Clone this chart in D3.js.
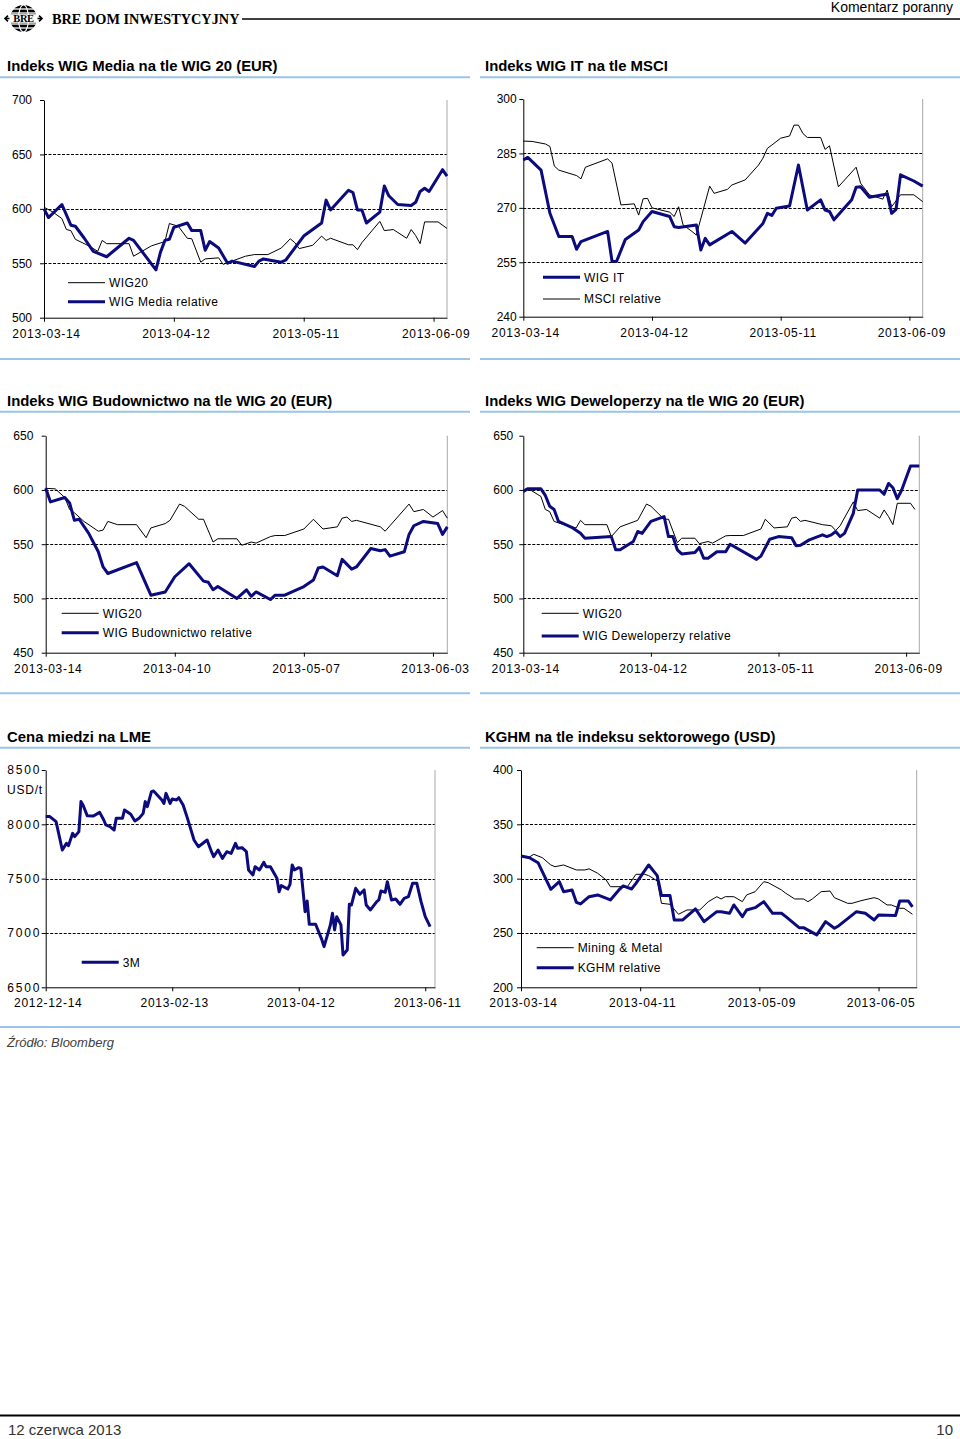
<!DOCTYPE html>
<html><head><meta charset="utf-8">
<script src="https://cdn.jsdelivr.net/npm/d3@7"></script>
<style>
body{margin:0;background:#fff;}
svg{display:block;font-family:Arial,"Liberation Sans",sans-serif;}
</style></head><body>
<svg id="page" width="960" height="1439"></svg>
<script>
// ---------- DATA ----------
// Chart 1: WIG Media vs WIG20
const mediaWig20Dates = ["2013-03-14","2013-03-16","2013-03-18","2013-03-19","2013-03-20","2013-03-21","2013-03-24","2013-03-26","2013-03-27","2013-03-28","2013-04-02","2013-04-03","2013-04-07","2013-04-10","2013-04-11","2013-04-13","2013-04-15","2013-04-16","2013-04-18","2013-04-19","2013-04-22","2013-04-23","2013-04-28","2013-04-30","2013-05-03","2013-05-06","2013-05-08","2013-05-09","2013-05-10","2013-05-13","2013-05-15","2013-05-16","2013-05-17","2013-05-21","2013-05-22","2013-05-23","2013-05-24","2013-05-28","2013-05-29","2013-05-31","2013-06-03","2013-06-04","2013-06-05","2013-06-06","2013-06-07","2013-06-10","2013-06-12"];
const mediaWig20Values = [601.5,597,591,581,580,572,566,561,571,568,568,556.5,566,570,586.5,584,573,572.5,551,554,555,549,556.5,558,558,564,572.5,569,563.5,566.5,575,571,573,567,567,562.5,569,588.5,580,581,573,581,575.5,568,588,588,582];
const mediaRelDates = ["2013-03-14","2013-03-15","2013-03-18","2013-03-20","2013-03-21","2013-03-23","2013-03-25","2013-03-28","2013-04-02","2013-04-03","2013-04-08","2013-04-09","2013-04-10","2013-04-11","2013-04-12","2013-04-15","2013-04-16","2013-04-18","2013-04-19","2013-04-20","2013-04-22","2013-04-24","2013-04-25","2013-04-30","2013-05-01","2013-05-02","2013-05-06","2013-05-07","2013-05-11","2013-05-15","2013-05-16","2013-05-17","2013-05-21","2013-05-22","2013-05-23","2013-05-24","2013-05-25","2013-05-28","2013-05-29","2013-05-30","2013-06-01","2013-06-04","2013-06-05","2013-06-06","2013-06-07","2013-06-08","2013-06-11","2013-06-12"];
const mediaRelValues = [600,592,604,585,584,573,561,556,573,571,544,560,571,572,583,587,580,580,562,570,564,550,552,547,552,554,551,553,575,587,608,599,617,615,599,599,587,597,621,612,604,603,606,616,619,616,636,630];

// Chart 2: WIG IT vs MSCI
const itDates = ["2013-03-14","2013-03-15","2013-03-18","2013-03-20","2013-03-22","2013-03-25","2013-03-26","2013-03-27","2013-04-02","2013-04-03","2013-04-04","2013-04-06","2013-04-09","2013-04-10","2013-04-12","2013-04-16","2013-04-17","2013-04-18","2013-04-22","2013-04-23","2013-04-24","2013-04-25","2013-04-30","2013-05-03","2013-05-07","2013-05-08","2013-05-09","2013-05-10","2013-05-13","2013-05-15","2013-05-17","2013-05-20","2013-05-21","2013-05-22","2013-05-23","2013-05-27","2013-05-28","2013-05-29","2013-05-31","2013-06-04","2013-06-05","2013-06-06","2013-06-07","2013-06-10","2013-06-12"];
const itValues = [283.2,283.9,280.4,268.5,262.1,262.1,258.6,260.7,263.5,255.2,255.2,261.3,263.9,266.2,269,267.6,264.8,264.6,265.3,258.4,261.6,259.8,263.5,260.3,265.7,268.5,267.9,269.9,270.5,281.8,269.4,272.2,269.4,269,266.7,272.2,275.7,275.8,272.9,273.8,268.5,269.6,279.1,277.4,276];
const msciDates = ["2013-03-14","2013-03-16","2013-03-19","2013-03-20","2013-03-21","2013-03-22","2013-03-26","2013-03-27","2013-03-28","2013-04-02","2013-04-03","2013-04-05","2013-04-08","2013-04-09","2013-04-10","2013-04-11","2013-04-12","2013-04-16","2013-04-17","2013-04-18","2013-04-19","2013-04-21","2013-04-22","2013-04-25","2013-04-26","2013-04-29","2013-04-30","2013-05-03","2013-05-06","2013-05-07","2013-05-08","2013-05-09","2013-05-11","2013-05-13","2013-05-14","2013-05-15","2013-05-16","2013-05-17","2013-05-20","2013-05-21","2013-05-22","2013-05-24","2013-05-28","2013-05-29","2013-05-31","2013-06-03","2013-06-04","2013-06-05","2013-06-07","2013-06-10","2013-06-12"];
const msciValues = [288.4,288.3,287.6,286.9,281.5,280.4,278.9,278,281.2,283.5,282.3,270.8,271.1,268,272.5,272.6,270,268.8,267.6,270.3,265.3,263.5,262.5,276,274,275.1,276.3,277.7,281.8,283.7,286.4,287.3,289.2,289.8,292.8,292.8,290.5,289.4,289.4,286.1,287.1,275.8,281.2,276.8,273.6,272.4,274.9,270.3,273.6,273.6,271.7];

// Chart 3: WIG Budownictwo vs WIG20
const budWig20Dates = ["2013-03-14","2013-03-16","2013-03-18","2013-03-19","2013-03-20","2013-03-22","2013-03-25","2013-03-26","2013-03-27","2013-03-29","2013-04-02","2013-04-04","2013-04-05","2013-04-08","2013-04-09","2013-04-11","2013-04-12","2013-04-15","2013-04-16","2013-04-18","2013-04-19","2013-04-23","2013-04-24","2013-04-26","2013-04-27","2013-04-30","2013-05-01","2013-05-03","2013-05-07","2013-05-09","2013-05-11","2013-05-14","2013-05-15","2013-05-16","2013-05-17","2013-05-18","2013-05-23","2013-05-24","2013-05-25","2013-05-29","2013-05-30","2013-06-01","2013-06-03","2013-06-05","2013-06-06"];
const budWig20Values = [601.5,601,593,582,579,571,562,563,571,568,568,556,565,569,572,587,585,573,573,552,555,555,549,552,551,557,558,558,564,573,564,566,574,575,571,572,566,562,567,587,580,582,575,581,574];
const budRelDates = ["2013-03-14","2013-03-15","2013-03-18","2013-03-19","2013-03-20","2013-03-21","2013-03-23","2013-03-25","2013-03-26","2013-03-27","2013-04-02","2013-04-05","2013-04-08","2013-04-10","2013-04-13","2013-04-16","2013-04-17","2013-04-18","2013-04-19","2013-04-23","2013-04-25","2013-04-26","2013-04-27","2013-04-30","2013-05-01","2013-05-03","2013-05-07","2013-05-09","2013-05-10","2013-05-11","2013-05-14","2013-05-15","2013-05-17","2013-05-18","2013-05-21","2013-05-23","2013-05-24","2013-05-25","2013-05-28","2013-05-29","2013-05-30","2013-06-01","2013-06-04","2013-06-05","2013-06-06"];
const budRelValues = [601.5,589,593,588,572,573,560,543,529,523,533,503,506,520,532,516,515,508,511,500,508,502,506,499,503,503,511,517,528,529,521,536,527,529,546,544,545,539,543,559,567,571,569,559,566];

// Chart 4: WIG Deweloperzy vs WIG20
const devWig20Dates = ["2013-03-14","2013-03-15","2013-03-18","2013-03-19","2013-03-20","2013-03-21","2013-03-24","2013-03-26","2013-03-27","2013-03-28","2013-04-02","2013-04-03","2013-04-05","2013-04-09","2013-04-11","2013-04-12","2013-04-15","2013-04-16","2013-04-18","2013-04-19","2013-04-22","2013-04-23","2013-04-25","2013-04-26","2013-04-29","2013-04-30","2013-05-03","2013-05-07","2013-05-08","2013-05-10","2013-05-13","2013-05-14","2013-05-15","2013-05-16","2013-05-17","2013-05-21","2013-05-23","2013-05-24","2013-05-25","2013-05-28","2013-05-29","2013-05-31","2013-06-03","2013-06-04","2013-06-05","2013-06-06","2013-06-07","2013-06-10","2013-06-11"];
const devWig20Values = [600,601.5,594,582,580,571,567,565,572,568,568,557,566,572,587,585,573,573,551.5,555.5,555.5,550.5,552.5,551,557.7,558,558,564,573,565,566,574,575,571,572,568,567,562.6,567,589,581,582,574,581.6,575.5,568,587.7,587.7,582];
const devRelDates = ["2013-03-14","2013-03-15","2013-03-18","2013-03-19","2013-03-20","2013-03-21","2013-03-22","2013-03-25","2013-03-27","2013-03-28","2013-04-03","2013-04-04","2013-04-05","2013-04-08","2013-04-09","2013-04-10","2013-04-12","2013-04-15","2013-04-16","2013-04-17","2013-04-18","2013-04-19","2013-04-22","2013-04-23","2013-04-24","2013-04-25","2013-04-27","2013-04-29","2013-04-30","2013-05-06","2013-05-07","2013-05-09","2013-05-11","2013-05-14","2013-05-15","2013-05-16","2013-05-18","2013-05-21","2013-05-22","2013-05-23","2013-05-24","2013-05-25","2013-05-26","2013-05-28","2013-05-29","2013-05-31","2013-06-03","2013-06-04","2013-06-05","2013-06-06","2013-06-07","2013-06-08","2013-06-10","2013-06-12"];
const devRelValues = [598.5,601,601,595,585,582,571,565.6,560,555.5,557,544.8,544.8,552.5,561.7,560,571,575.5,557,557,544.8,541,542.3,547,537,537,543,543,550,536,539,554.6,557,556,548.5,549,554,558.6,557,558.6,561.7,557,560,578.5,600,600,600,596,606,602,592,600,622,622];

// Chart 5: LME copper 3M (USD/t)
const copperDates = ["2012-12-14","2012-12-16","2012-12-19","2012-12-22","2012-12-24","2012-12-25","2012-12-27","2012-12-28","2012-12-30","2012-12-31","2013-01-01","2013-01-03","2013-01-06","2013-01-09","2013-01-11","2013-01-12","2013-01-14","2013-01-16","2013-01-17","2013-01-20","2013-01-21","2013-01-24","2013-01-26","2013-01-28","2013-01-30","2013-01-31","2013-02-01","2013-02-03","2013-02-04","2013-02-08","2013-02-09","2013-02-10","2013-02-12","2013-02-13","2013-02-15","2013-02-16","2013-02-18","2013-02-20","2013-02-23","2013-02-25","2013-03-01","2013-03-03","2013-03-04","2013-03-06","2013-03-08","2013-03-10","2013-03-12","2013-03-14","2013-03-15","2013-03-17","2013-03-19","2013-03-20","2013-03-22","2013-03-23","2013-03-25","2013-03-27","2013-03-28","2013-03-30","2013-04-02","2013-04-03","2013-04-04","2013-04-07","2013-04-08","2013-04-09","2013-04-10","2013-04-12","2013-04-13","2013-04-15","2013-04-16","2013-04-17","2013-04-20","2013-04-23","2013-04-24","2013-04-27","2013-04-28","2013-04-29","2013-04-30","2013-05-02","2013-05-03","2013-05-05","2013-05-06","2013-05-07","2013-05-09","2013-05-11","2013-05-13","2013-05-14","2013-05-16","2013-05-19","2013-05-20","2013-05-21","2013-05-23","2013-05-24","2013-05-26","2013-05-28","2013-05-30","2013-06-01","2013-06-03","2013-06-05","2013-06-07","2013-06-09","2013-06-11","2013-06-13"];
const copperValues = [8071,8071,8025,7764,7825,7804,7917,7887,7933,8209,8178,8080,8077,8110,8040,7994,7979,7948,8055,8055,8132,8092,8031,8055,8101,8209,8163,8301,8307,8224,8193,8285,8193,8233,8224,8245,8178,8055,7856,7794,7856,7748,7702,7764,7687,7748,7733,7825,7779,7785,7748,7580,7534,7610,7580,7650,7610,7610,7503,7380,7436,7405,7448,7626,7580,7601,7595,7196,7294,7080,7080,6936,6874,7074,7181,7028,7150,7074,6798,6844,7264,7258,7411,7356,7396,7258,7212,7288,7304,7387,7374,7472,7304,7313,7264,7319,7334,7457,7457,7288,7150,7058];

// Chart 6: KGHM vs Mining & Metal (USD)
const miningDates = ["2013-03-14","2013-03-16","2013-03-17","2013-03-19","2013-03-21","2013-03-22","2013-03-24","2013-03-27","2013-03-29","2013-03-30","2013-04-01","2013-04-03","2013-04-04","2013-04-08","2013-04-10","2013-04-12","2013-04-13","2013-04-15","2013-04-16","2013-04-18","2013-04-20","2013-04-22","2013-04-25","2013-04-27","2013-04-29","2013-04-30","2013-05-01","2013-05-03","2013-05-05","2013-05-06","2013-05-08","2013-05-10","2013-05-11","2013-05-14","2013-05-15","2013-05-17","2013-05-19","2013-05-20","2013-05-21","2013-05-23","2013-05-25","2013-05-26","2013-05-29","2013-05-30","2013-06-01","2013-06-04","2013-06-05","2013-06-07","2013-06-08","2013-06-10","2013-06-11","2013-06-13"];
const miningValues = [320.2,320,322.4,319.3,312.6,311,312.6,308,308,309,305,298.8,292.6,292.6,304,304,302.8,297.9,277.3,276.4,267.2,271.2,271.2,278.8,283.4,281.3,283.4,283.4,278.8,285,288,297.2,296.3,289.6,286.5,281.3,281.3,278.8,281.3,288,288.6,282.5,277.3,277.3,279.7,282.5,281.3,275.8,275.8,272.7,272.7,267.2];
const kghmDates = ["2013-03-14","2013-03-16","2013-03-18","2013-03-21","2013-03-23","2013-03-24","2013-03-26","2013-03-27","2013-03-28","2013-03-30","2013-04-01","2013-04-04","2013-04-06","2013-04-07","2013-04-09","2013-04-10","2013-04-13","2013-04-15","2013-04-16","2013-04-18","2013-04-19","2013-04-21","2013-04-24","2013-04-26","2013-04-29","2013-04-30","2013-05-02","2013-05-03","2013-05-05","2013-05-06","2013-05-08","2013-05-10","2013-05-12","2013-05-14","2013-05-15","2013-05-18","2013-05-19","2013-05-22","2013-05-24","2013-05-26","2013-05-27","2013-05-31","2013-06-02","2013-06-04","2013-06-05","2013-06-09","2013-06-10","2013-06-12","2013-06-13"];
const kghmValues = [320.9,319.3,314.7,290.2,297.2,288,289.6,278.2,276.7,283.4,285,280.4,289.6,293.3,290.5,295.7,312.6,302.8,284.4,284.4,262,262,272.1,260.4,269.6,269.6,268.1,275.8,265,271.2,273.3,278.8,268.1,268.1,265,254.9,254.9,248.2,260.4,254.3,256.7,269.6,268.1,262,266.6,266,279.5,279.5,274];

// Tick labels
const ticksA = ["2013-03-14","2013-04-12","2013-05-11","2013-06-09"];
const ticksB = ["2013-03-14","2013-04-10","2013-05-07","2013-06-03"];
const ticksCopper = ["2012-12-14","2013-02-13","2013-04-12","2013-06-11"];
const ticksKghm = ["2013-03-14","2013-04-11","2013-05-09","2013-06-05"];
const yTicksIndex = [500,550,600,650,700];
const yTicksIT = [240,255,270,285,300];
const yTicksBud = [450,500,550,600,650];
const yTicksCopper = [6500,7000,7500,8000,8500];
const yTicksKghm = [200,250,300,350,400];

const titles = ["Indeks WIG Media na tle WIG 20 (EUR)","Indeks WIG IT na tle MSCI","Indeks WIG Budownictwo na tle WIG 20 (EUR)","Indeks WIG Deweloperzy na tle WIG 20 (EUR)","Cena miedzi na LME","KGHM na tle indeksu sektorowego (USD)"];

// ---------- DRAWING ----------
const parse = d3.timeParse("%Y-%m-%d");
const fmt = d3.timeFormat("%Y-%m-%d");
const NAVY = "#0b0b7e";
const svg = d3.select("#page");
const zip = (ds, vs) => ds.map((d, i) => ({x: parse(d), y: vs[i]}));

// header logo
const logo = svg.append("g").attr("transform","translate(23.5,18.5)");
logo.append("circle").attr("r",13.5).attr("fill","#000");
[-9.5,-5.5,5.5,9.5].forEach(o => logo.append("line").attr("x1",-14).attr("x2",14).attr("y1",o).attr("y2",o).attr("stroke","#fff").attr("stroke-width",1.3));
logo.append("ellipse").attr("rx",5).attr("ry",13.5).attr("fill","none").attr("stroke","#fff").attr("stroke-width",1.1);
logo.append("rect").attr("x",-14).attr("y",-4.3).attr("width",28).attr("height",8.6).attr("fill","#fff");
logo.append("text").attr("x",0).attr("y",3.8).attr("text-anchor","middle").attr("font-family","Liberation Serif, serif").attr("font-weight","bold").attr("font-size",10.5).attr("letter-spacing",-0.4).text("BRE");
logo.append("path").attr("d","M-14,0 L-17.5,0 M-15.5,-2.8 L-18.5,0 L-15.5,2.8 M14,0 L17.5,0 M15.5,-2.8 L18.5,0 L15.5,2.8").attr("stroke","#000").attr("stroke-width",1.6).attr("fill","none");
svg.append("text").attr("x",52).attr("y",24).attr("font-family","Liberation Serif, 'Times New Roman', serif").attr("font-weight","bold").attr("font-size",14.3).text("BRE DOM INWESTYCYJNY");
svg.append("line").attr("x1",242).attr("x2",960).attr("y1",19).attr("y2",19).attr("stroke","#000").attr("stroke-width",1.3);
svg.append("text").attr("x",953).attr("y",12).attr("text-anchor","end").attr("font-size",14).text("Komentarz poranny");

// section titles & light blue rules
const BLUE_RULE = "#9dc3e6";
function rule(y, x1, x2){ svg.append("line").attr("x1",x1).attr("x2",x2).attr("y1",y).attr("y2",y).attr("stroke",BLUE_RULE).attr("stroke-width",2); }
[[71,77.3],[406,411.7],[741.7,747.7]].forEach(([ty,ry],row) => {
  svg.append("text").attr("x",7).attr("y",ty).attr("font-weight","bold").attr("font-size",14.9).text(titles[row*2]);
  svg.append("text").attr("x",485).attr("y",ty).attr("font-weight","bold").attr("font-size",14.9).text(titles[row*2+1]);
  rule(ry,0,470); rule(ry,480,960);
});
[359,693.3].forEach(y => { rule(y,0,470); rule(y,480,960); });
rule(1027,0,960);

svg.append("text").attr("x",7).attr("y",1047).attr("font-size",13).attr("font-style","italic").attr("fill","#404040").text("Źródło: Bloomberg");
svg.append("line").attr("x1",0).attr("x2",960).attr("y1",1415.5).attr("y2",1415.5).attr("stroke","#000").attr("stroke-width",2);
svg.append("text").attr("x",8).attr("y",1435).attr("font-size",15).attr("fill","#333").text("12 czerwca 2013");
svg.append("text").attr("x",953).attr("y",1435).attr("text-anchor","end").attr("font-size",15).attr("fill","#333").text("10");

function drawChart(c){
  const g = svg.append("g");
  const last = c.xFrac[c.xFrac.length-1];
  const xr = c.xFrac.map(f => c.left + f/last*(c.right-c.left));
  const x = d3.scaleTime().domain(c.xDomain.map(parse)).range(xr);
  const y = d3.scaleLinear().domain([c.yTicks[0], c.yTicks[c.yTicks.length-1]]).range([c.bottom, c.top]);
  g.selectAll("line.grid").data(c.yTicks.slice(1,-1)).join("line").attr("class","grid")
    .attr("x1",c.left).attr("x2",c.right).attr("y1",d=>Math.round(y(d))+0.5).attr("y2",d=>Math.round(y(d))+0.5)
    .attr("stroke","#000").attr("stroke-width",1).attr("stroke-dasharray","3,1.5");
  g.append("line").attr("x1",c.right).attr("x2",c.right).attr("y1",c.top).attr("y2",c.bottom).attr("stroke","#a8a8a8").attr("stroke-width",1);
  const ya = g.append("g").attr("transform",`translate(${c.left},0)`)
    .call(d3.axisLeft(y).tickValues(c.yTicks).tickSize(4).tickSizeOuter(0).tickPadding(c.yPad).tickFormat(d3.format("d")));
  ya.selectAll("text").attr("font-size",12).attr("font-family","Arial, Liberation Sans, sans-serif").attr("fill","#000").attr("letter-spacing",c.ySpacing||0);
  const xa = g.append("g").attr("transform",`translate(0,${c.bottom})`)
    .call(d3.axisBottom(x).tickValues(c.xTicks.map(parse)).tickSize(4).tickSizeOuter(0).tickPadding(7.5).tickFormat(fmt));
  xa.selectAll("text").attr("font-size",12).attr("font-family","Arial, Liberation Sans, sans-serif").attr("fill","#000").attr("letter-spacing",0.7).attr("dx",2);
  g.selectAll(".domain, .tick line").attr("stroke","#000");
  const line = d3.line().x(d=>x(d.x)).y(d=>y(d.y));
  c.series.forEach(s => {
    g.append("path").datum(s.data).attr("d",line).attr("fill","none").attr("stroke",s.color)
      .attr("stroke-width",s.width).attr("stroke-linejoin","round");
  });
  c.legend.forEach(l => {
    g.append("line").attr("x1",l.x).attr("x2",l.x+37).attr("y1",l.y).attr("y2",l.y).attr("stroke",l.color).attr("stroke-width",l.width);
    g.append("text").attr("x",l.x+41).attr("y",l.y+4.3).attr("font-size",12).attr("letter-spacing",0.4).text(l.label);
  });
}

const charts = [
  {left:44,right:447,top:100,bottom:317.7,yTicks:yTicksIndex,yPad:8,xDomain:["2013-03-14","2013-06-12"],xFrac:[0,1],xTicks:ticksA,
   series:[{data:zip(mediaWig20Dates,mediaWig20Values),color:"#000",width:1},{data:zip(mediaRelDates,mediaRelValues),color:NAVY,width:3}],
   legend:[{x:68,y:282.7,color:"#000",width:1,label:"WIG20"},{x:68,y:301.7,color:NAVY,width:3,label:"WIG Media relative"}]},
  {left:523.3,right:922.7,top:99,bottom:316.7,yTicks:yTicksIT,yPad:2.6,xDomain:["2013-03-14","2013-06-12"],xFrac:[0,1],xTicks:ticksA,
   series:[{data:zip(msciDates,msciValues),color:"#000",width:1},{data:zip(itDates,itValues),color:NAVY,width:3}],
   legend:[{x:543,y:277.3,color:NAVY,width:3,label:"WIG IT"},{x:543,y:299,color:"#000",width:1,label:"MSCI relative"}]},
  {left:45.7,right:447.3,top:435.7,bottom:652.7,yTicks:yTicksBud,yPad:8.4,xDomain:["2013-03-14","2013-06-06"],xFrac:[0,1],xTicks:ticksB,
   series:[{data:zip(budWig20Dates,budWig20Values),color:"#000",width:1},{data:zip(budRelDates,budRelValues),color:NAVY,width:3}],
   legend:[{x:61.7,y:613.3,color:"#000",width:1,label:"WIG20"},{x:61.7,y:632.7,color:NAVY,width:3,label:"WIG Budownictwo relative"}]},
  {left:523.3,right:919.3,top:435.7,bottom:652.7,yTicks:yTicksBud,yPad:6,xDomain:["2013-03-14","2013-06-12"],xFrac:[0,1],xTicks:ticksA,
   series:[{data:zip(devWig20Dates,devWig20Values),color:"#000",width:1},{data:zip(devRelDates,devRelValues),color:NAVY,width:3}],
   legend:[{x:541.7,y:613.3,color:"#000",width:1,label:"WIG20"},{x:541.7,y:636,color:NAVY,width:3,label:"WIG Deweloperzy relative"}]},
  {left:45.7,right:435,top:770,bottom:987.3,yTicks:yTicksCopper,yPad:0.5,ySpacing:1.8,xDomain:["2012-12-14","2013-02-13","2013-04-12","2013-06-11","2013-06-15"],xFrac:[0,1,2,3,3.077],xTicks:ticksCopper,
   series:[{data:zip(copperDates,copperValues),color:NAVY,width:3}],
   legend:[{x:81.7,y:962.3,color:NAVY,width:3,label:"3M"}]},
  {left:521,right:916.7,top:770,bottom:987.3,yTicks:yTicksKghm,yPad:4,xDomain:["2013-03-14","2013-04-11","2013-05-09","2013-06-05","2013-06-14"],xFrac:[0,1,2,3,3.32],xTicks:ticksKghm,
   series:[{data:zip(miningDates,miningValues),color:"#000",width:1},{data:zip(kghmDates,kghmValues),color:NAVY,width:3}],
   legend:[{x:536.7,y:947.7,color:"#000",width:1,label:"Mining & Metal"},{x:536.7,y:967.7,color:NAVY,width:3,label:"KGHM relative"}]}
];
charts.forEach(drawChart);
svg.append("text").attr("x",7).attr("y",794).attr("font-size",12).attr("letter-spacing",0.8).text("USD/t");
</script>
</body></html>
